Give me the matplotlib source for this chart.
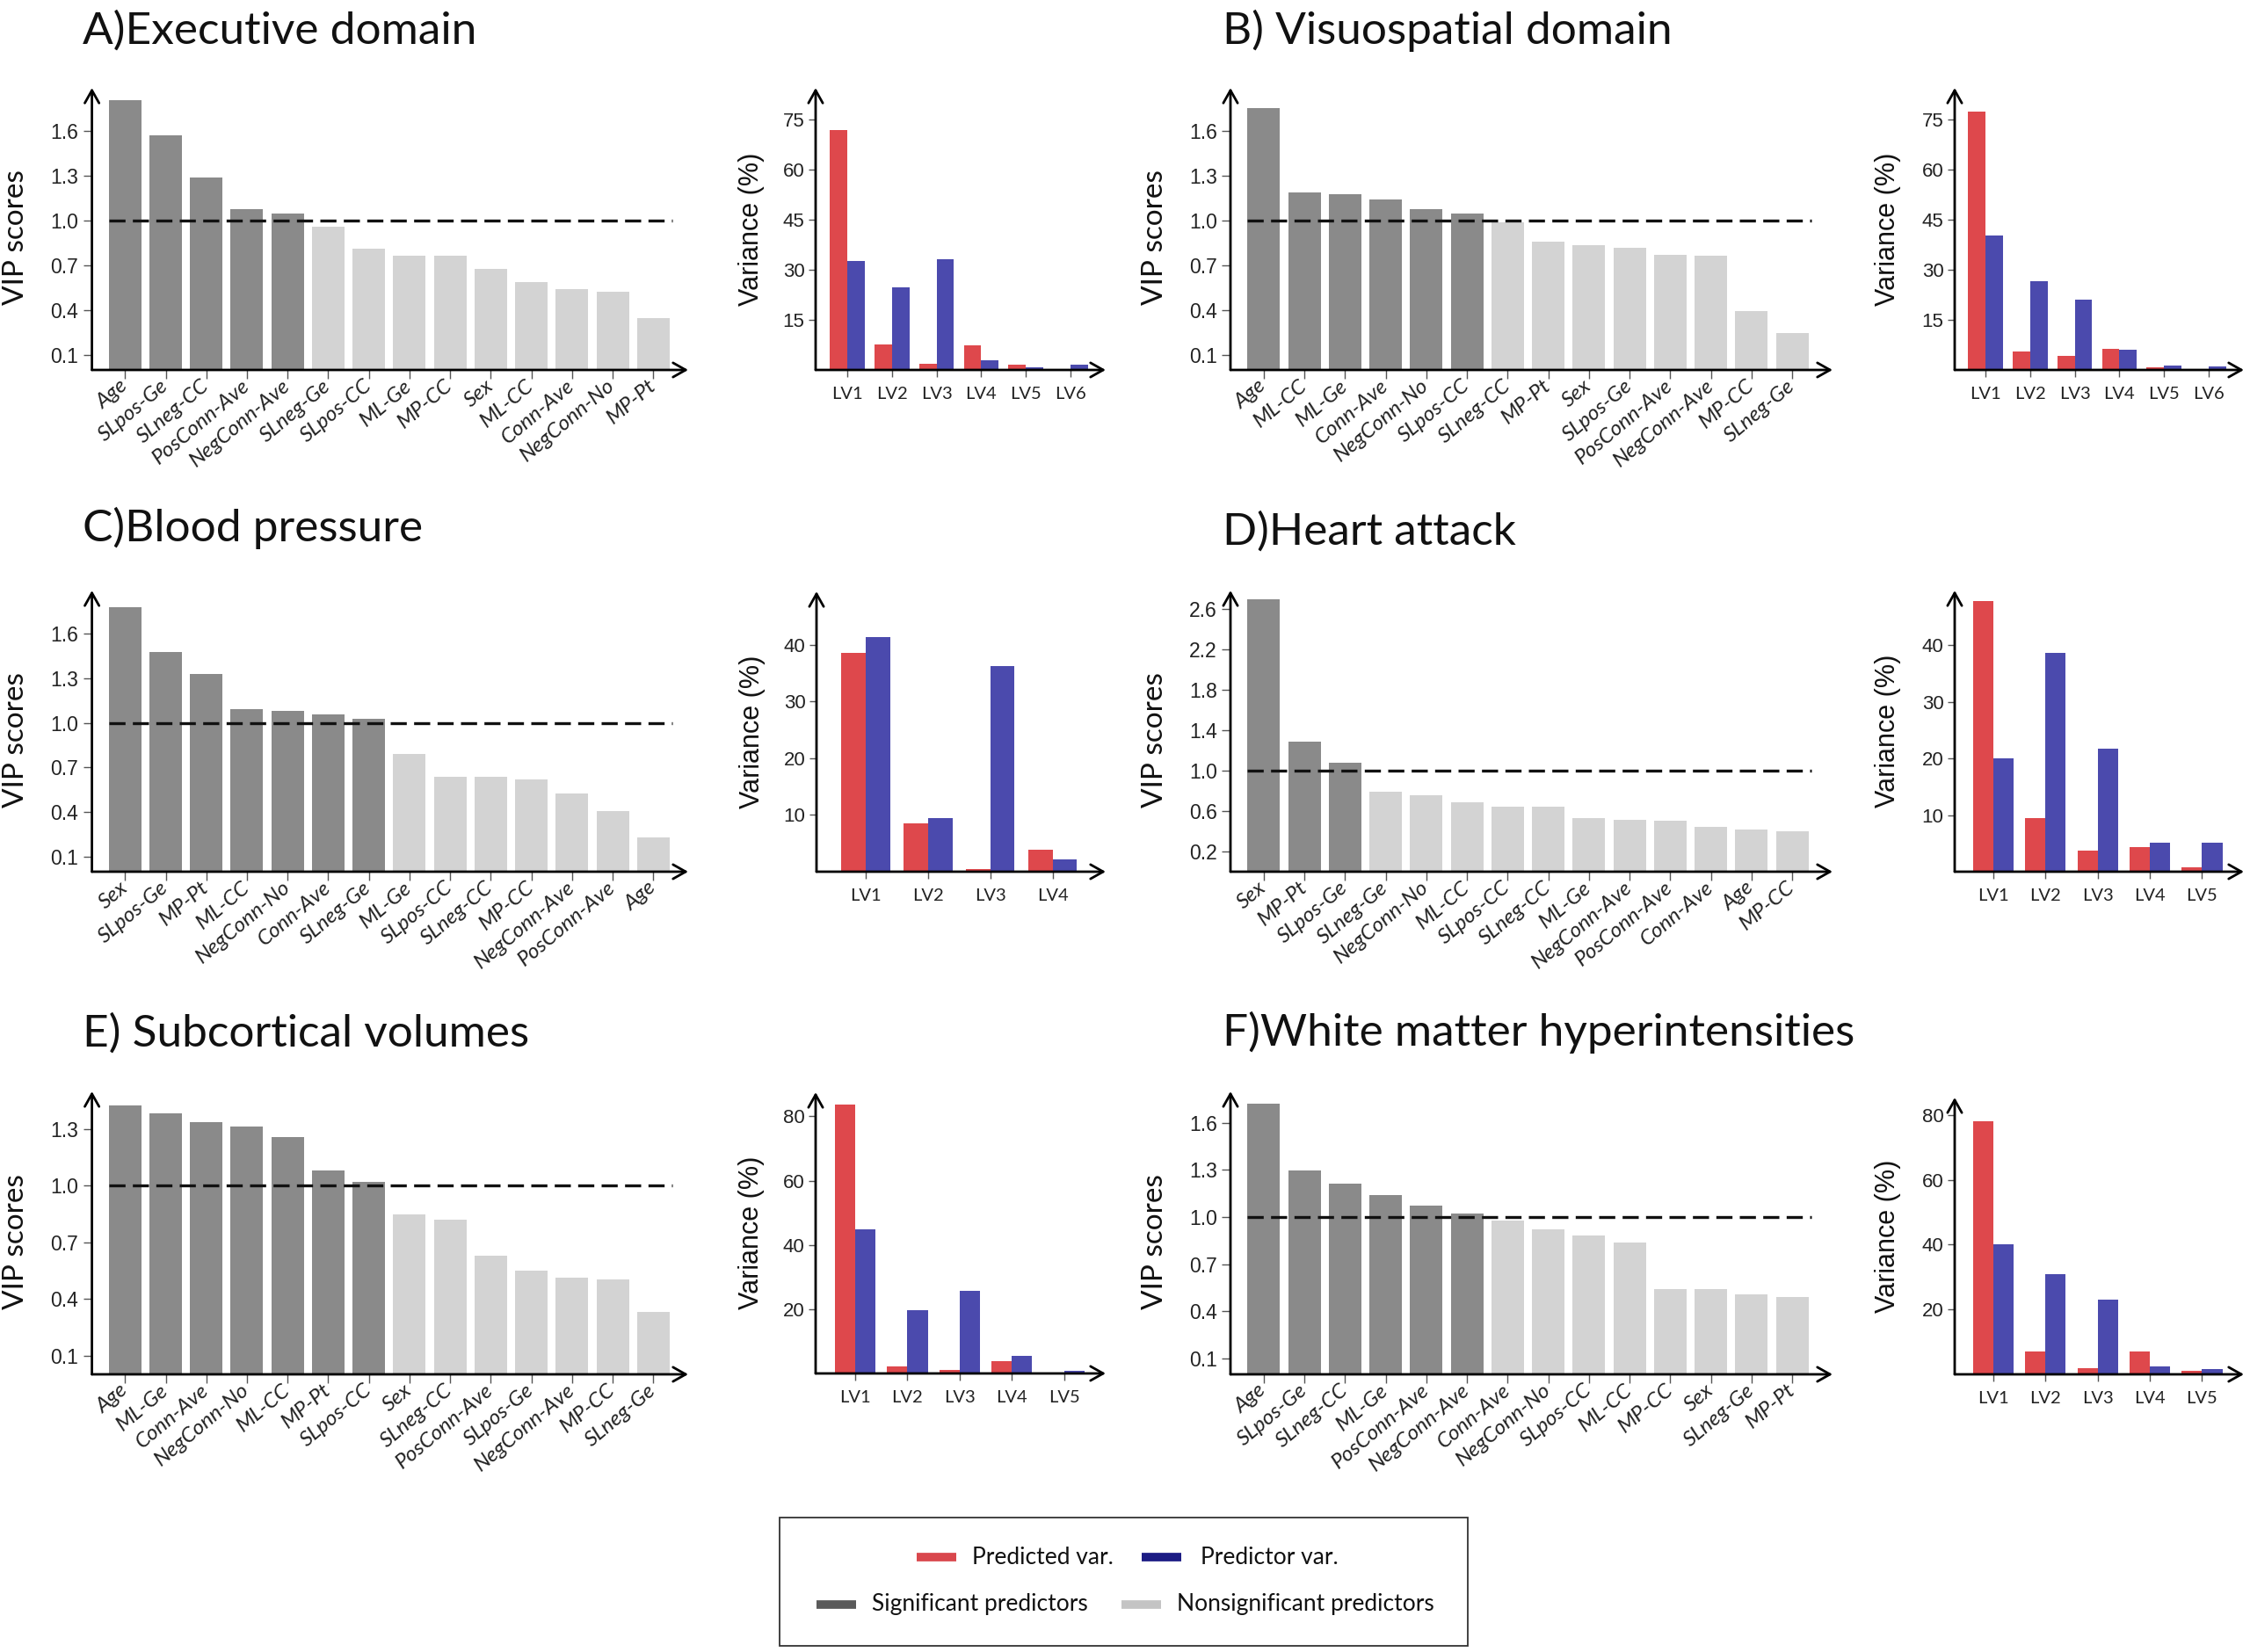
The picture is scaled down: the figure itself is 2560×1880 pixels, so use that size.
import matplotlib
matplotlib.use('Agg')
import matplotlib.pyplot as plt
import matplotlib.transforms as mtransforms
from matplotlib.lines import Line2D
from matplotlib.patches import Rectangle
import numpy as np

# ---------------- data ----------------
A_labels = ['Age', 'SLpos-Ge', 'SLneg-CC', 'PosConn-Ave', 'NegConn-Ave', 'SLneg-Ge', 'SLpos-CC',
            'ML-Ge', 'MP-CC', 'Sex', 'ML-CC', 'Conn-Ave', 'NegConn-No', 'MP-Pt']
A_vip = [1.81, 1.57, 1.29, 1.08, 1.05, 0.96, 0.81, 0.765, 0.765, 0.675, 0.59, 0.54, 0.525, 0.35]
A_nsig = 5
A_predicted = [71.9, 7.6, 1.9, 7.5, 1.7, 0.0]
A_predictor = [32.7, 24.7, 33.2, 3.0, 0.9, 1.7]

B_labels = ['Age', 'ML-CC', 'ML-Ge', 'Conn-Ave', 'NegConn-No', 'SLpos-CC', 'SLneg-CC', 'MP-Pt',
            'Sex', 'SLpos-Ge', 'PosConn-Ave', 'NegConn-Ave', 'MP-CC', 'SLneg-Ge']
B_vip = [1.755, 1.19, 1.175, 1.14, 1.075, 1.05, 0.99, 0.86, 0.836, 0.818, 0.77, 0.765, 0.394, 0.25]
B_nsig = 6
B_predicted = [77.5, 5.6, 4.1, 6.2, 0.7, 0.0]
B_predictor = [40.4, 26.6, 21.1, 6.1, 1.3, 1.05]

C_labels = ['Sex', 'SLpos-Ge', 'MP-Pt', 'ML-CC', 'NegConn-No', 'Conn-Ave', 'SLneg-Ge', 'ML-Ge',
            'SLpos-CC', 'SLneg-CC', 'MP-CC', 'NegConn-Ave', 'PosConn-Ave', 'Age']
C_vip = [1.78, 1.478, 1.327, 1.094, 1.082, 1.06, 1.03, 0.79, 0.637, 0.637, 0.62, 0.526, 0.405, 0.228]
C_nsig = 7
C_predicted = [38.5, 8.5, 0.5, 3.9]
C_predictor = [41.3, 9.4, 36.3, 2.1]

D_labels = ['Sex', 'MP-Pt', 'SLpos-Ge', 'SLneg-Ge', 'NegConn-No', 'ML-CC', 'SLpos-CC', 'SLneg-CC',
            'ML-Ge', 'NegConn-Ave', 'PosConn-Ave', 'Conn-Ave', 'Age', 'MP-CC']
D_vip = [2.696, 1.29, 1.074, 0.793, 0.755, 0.69, 0.64, 0.64, 0.53, 0.51, 0.50, 0.44, 0.42, 0.40]
D_nsig = 3
D_predicted = [47.8, 9.4, 3.8, 4.3, 0.7]
D_predictor = [20.0, 38.6, 21.75, 5.1, 5.2]

E_labels = ['Age', 'ML-Ge', 'Conn-Ave', 'NegConn-No', 'ML-CC', 'MP-Pt', 'SLpos-CC', 'Sex',
            'SLneg-CC', 'PosConn-Ave', 'SLpos-Ge', 'NegConn-Ave', 'MP-CC', 'SLneg-Ge']
E_vip = [1.427, 1.382, 1.337, 1.315, 1.257, 1.083, 1.018, 0.849, 0.821, 0.628, 0.549, 0.514, 0.504, 0.333]
E_nsig = 7
E_predicted = [83.8, 2.3, 1.1, 3.9, 0.4]
E_predictor = [44.9, 19.7, 25.6, 5.5, 0.9]

F_labels = ['Age', 'SLpos-Ge', 'SLneg-CC', 'ML-Ge', 'PosConn-Ave', 'NegConn-Ave', 'Conn-Ave',
            'NegConn-No', 'SLpos-CC', 'ML-CC', 'MP-CC', 'Sex', 'SLneg-Ge', 'MP-Pt']
F_vip = [1.723, 1.295, 1.211, 1.141, 1.072, 1.024, 0.976, 0.924, 0.886, 0.84, 0.544, 0.542, 0.51, 0.494]
F_nsig = 6
F_predicted = [78.0, 7.0, 2.0, 7.0, 1.0]
F_predictor = [40.0, 31.0, 23.0, 2.5, 1.5]

LV6 = ['LV1', 'LV2', 'LV3', 'LV4', 'LV5', 'LV6']
LV5 = ['LV1', 'LV2', 'LV3', 'LV4', 'LV5']
LV4 = ['LV1', 'LV2', 'LV3', 'LV4']

titles = ['A)Executive domain', 'B) Visuospatial domain', 'C)Blood pressure',
          'D)Heart attack', 'E) Subcortical volumes', 'F)White matter hyperintensities']

vip_ticks_std = [0.1, 0.4, 0.7, 1.0, 1.3, 1.6]
vip_ticks_D = [0.2, 0.6, 1.0, 1.4, 1.8, 2.2, 2.6]
vip_ticks_E = [0.1, 0.4, 0.7, 1.0, 1.3]
var_ticks_15 = [15, 30, 45, 60, 75]
var_ticks_10 = [10, 20, 30, 40]
var_ticks_20 = [20, 40, 60, 80]

legend_labels = ['Predicted var.', 'Predictor var.', 'Significant predictors', 'Nonsignificant predictors']

# ---------------- style ----------------
DARK = '#8a8a8a'
LIGHT = '#d3d3d3'
RED = '#de484c'
BLUE = '#4b4aad'
W, H = 2560, 1880

fig = plt.figure(figsize=(25.6, 18.8), dpi=100)
fig.patch.set_facecolor('white')


def rect(l, t, r, b):
    return [l / W, 1 - b / H, (r - l) / W, (b - t) / H]


def arrows(ax):
    for s in ax.spines.values():
        s.set_visible(False)
    style = '->,head_length=0.8,head_width=0.45'
    for xy in [(0, 1), (1, 0)]:
        ax.annotate('', xy=xy, xytext=(0, 0), xycoords='axes fraction',
                    arrowprops=dict(arrowstyle=style, lw=2.0, color='black',
                                    shrinkA=0, shrinkB=0, mutation_scale=13))


def vip_panel(box, labels, vals, nsig, yticks, ymax, xlim, labx):
    ax = fig.add_axes(rect(*box))
    n = len(labels)
    x = np.arange(n)
    colors = [DARK] * nsig + [LIGHT] * (n - nsig)
    ax.bar(x, vals, width=0.8, color=colors, zorder=2)
    ax.hlines(1.0, -0.4, n - 0.53, colors='#111111', linestyles=(0, (5.5, 2.5)),
              lw=2.4, zorder=3)
    ax.set_xlim(*xlim)
    ax.set_ylim(0, ymax)
    ax.set_yticks(yticks)
    ax.set_yticklabels([f'{t:.1f}' for t in yticks], family='Liberation Sans', fontsize=16.5,
                       color='#222222')
    ax.set_xticks(x)
    ax.set_xticklabels(labels, rotation=40, ha='right', va='center', rotation_mode='anchor',
                       family='Lato', style='italic', fontsize=17.5, color='#222222')
    off = mtransforms.ScaledTranslation(0.32, -0.22, fig.dpi_scale_trans)
    for lab in ax.get_xticklabels():
        lab.set_transform(lab.get_transform() + off)
    ax.tick_params(axis='both', direction='out', length=7, width=1, color='#555555')
    ax.tick_params(axis='x', pad=4)
    ax.tick_params(axis='y', pad=4)
    ax.set_ylabel('VIP scores', family='Lato', fontsize=24, color='#111111')
    ax.yaxis.set_label_coords(labx, 0.47)
    arrows(ax)
    return ax


def var_panel(box, lvs, pred, predr, yticks, ymax, xlim, labx):
    ax = fig.add_axes(rect(*box))
    x = np.arange(len(lvs))
    w = 0.39
    ax.bar(x - w / 2, pred, width=w, color=RED, zorder=2)
    ax.bar(x + w / 2, predr, width=w, color=BLUE, zorder=2)
    ax.set_xlim(*xlim)
    ax.set_ylim(0, ymax)
    ax.set_yticks(yticks)
    ax.set_yticklabels([str(t) for t in yticks], family='Liberation Sans', fontsize=16,
                       color='#222222')
    ax.set_xticks(x)
    ax.set_xticklabels(lvs, family='Lato', fontsize=14.5, color='#222222')
    ax.tick_params(axis='both', direction='out', length=6, width=1, color='#555555')
    ax.tick_params(axis='x', pad=8)
    ax.tick_params(axis='y', pad=3)
    ax.set_ylabel('Variance (%)', family='Liberation Sans', fontsize=22, color='#111111')
    ax.yaxis.set_label_coords(labx, 0.5)
    arrows(ax)
    return ax


# ---------------- panels ----------------
L_VIP = (104.6, 783)
R_VIP = (1400, 2085)

vip_panel((L_VIP[0], 100, L_VIP[1], 421), A_labels, A_vip, A_nsig, vip_ticks_std, 1.89, (-0.815, 13.86), -0.106)
var_panel((928, 100, 1258, 421), LV6, A_predicted, A_predictor, var_ticks_15, 84.5, (-0.71, 5.79), -0.176)

vip_panel((R_VIP[0], 100, R_VIP[1], 421), B_labels, B_vip, B_nsig, vip_ticks_std, 1.89, (-0.82, 13.99), -0.104)
var_panel((2224, 100, 2553, 421), LV6, B_predicted, B_predictor, var_ticks_15, 84.5, (-0.69, 5.79), -0.185)

vip_panel((L_VIP[0], 672, L_VIP[1], 992), C_labels, C_vip, C_nsig, vip_ticks_std, 1.89, (-0.815, 13.86), -0.106)
var_panel((929, 673, 1258, 992), LV4, C_predicted, C_predictor, var_ticks_10, 49.4, (-0.79, 3.85), -0.176)

vip_panel((R_VIP[0], 672, R_VIP[1], 992), D_labels, D_vip, D_nsig, vip_ticks_D, 2.78, (-0.82, 13.99), -0.104)
var_panel((2224, 672, 2553, 992), LV5, D_predicted, D_predictor, var_ticks_10, 49.7, (-0.74, 4.8), -0.185)

vip_panel((L_VIP[0], 1242, L_VIP[1], 1564), E_labels, E_vip, E_nsig, vip_ticks_E, 1.50, (-0.815, 13.86), -0.106)
var_panel((928, 1243, 1258, 1563), LV5, E_predicted, E_predictor, var_ticks_20, 87.5, (-0.76, 4.8), -0.176)

vip_panel((R_VIP[0], 1242, R_VIP[1], 1564), F_labels, F_vip, F_nsig, vip_ticks_std, 1.80, (-0.82, 13.99), -0.104)
var_panel((2224, 1249, 2553, 1564), LV5, F_predicted, F_predictor, var_ticks_20, 85.4, (-0.74, 4.8), -0.185)

# ---------------- titles ----------------
title_pos = [(94, 50), (1391, 50), (94, 616), (1391, 620), (94, 1191), (1391, 1190)]
for (tx, ty), t in zip(title_pos, titles):
    fig.text(tx / W, 1 - ty / H, t, family='Lato', fontsize=37, va='baseline', ha='left',
             color='#111111')

# ---------------- legend ----------------
fig.add_artist(Rectangle((886.5 / W, 1 - 1873 / H), (1670 - 886.5) / W, (1873 - 1727) / H,
                         transform=fig.transFigure, fill=False, lw=1.3, ec='#333333'))
leg_geom = [((1042.6, 1087.6), 1772, '#d9474d', 1106),
            ((1299.0, 1344.4), 1772, '#1c1c84', 1365.6),
            ((928.8, 973.8), 1826, '#5a5a5a', 992.3),
            ((1275.6, 1320.6), 1826, '#c4c4c4', 1339)]
for ((x1, x2), y, c, tx), txt in zip(leg_geom, legend_labels):
    fig.add_artist(Line2D([x1 / W, x2 / W], [1 - y / H, 1 - y / H], transform=fig.transFigure,
                          lw=7, color=c, solid_capstyle='butt'))
    fig.text(tx / W, 1 - y / H, txt, family='Lato', fontsize=19, va='center', ha='left',
             color='#111111')

fig.savefig('out.png', dpi=100, facecolor='white')
